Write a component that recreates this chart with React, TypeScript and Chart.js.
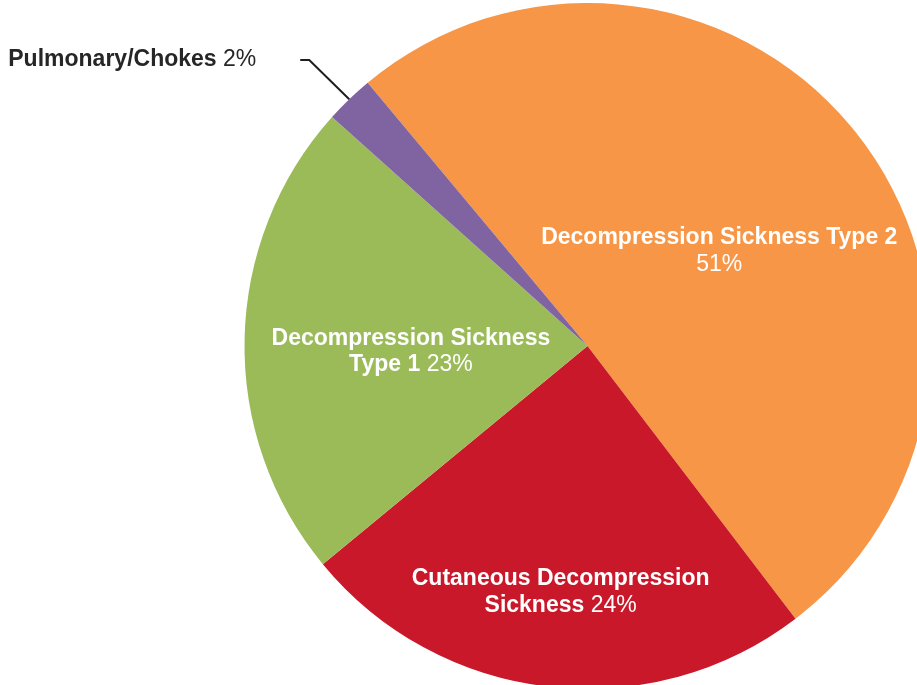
import React, { useEffect, useRef } from "react";
import { Chart, registerables } from "chart.js";

Chart.register(...registerables);

// ---- data ----
const categories = [
  "Decompression Sickness Type 2",
  "Cutaneous Decompression Sickness",
  "Decompression Sickness Type 1",
  "Pulmonary/Chokes",
];
const shares = [50.7, 24.4, 22.6, 2.3];
const sliceColors = ["#F79646", "#CA182B", "#9BBB59", "#8064A2"];
// label text broken into lines (percentage appended)
const labelLines = [
  ["Decompression Sickness Type 2"],
  ["Cutaneous Decompression", "Sickness"],
  ["Decompression Sickness", "Type 1"],
  ["Pulmonary/Chokes"],
];
const pctOnOwnLine = [true, false, false, false];
const outsideLabel = [false, false, false, true];

// ---- label placement / style ----
const labelRadius = [0.476, 0.716, 0.515, 1];
const labelAngleAdjust = [2.4, -0.3, -2.5, 0];
const FONT_FAMILY = '"Liberation Sans", Arial, Helvetica, sans-serif';
const FONT_SIZE = 23;
const LINE_H = 26.8;

type Seg = { text: string; bold: boolean };

function drawSegLine(ctx: CanvasRenderingContext2D, segs: Seg[], cx: number, baseline: number, align: "center" | "right") {
  let total = 0;
  const widths = segs.map((s) => {
    ctx.font = `${s.bold ? "bold " : ""}${FONT_SIZE}px ${FONT_FAMILY}`;
    const w = ctx.measureText(s.text).width;
    total += w;
    return w;
  });
  let x = align === "center" ? cx - total / 2 : cx - total;
  segs.forEach((s, k) => {
    ctx.font = `${s.bold ? "bold " : ""}${FONT_SIZE}px ${FONT_FAMILY}`;
    ctx.textAlign = "left";
    ctx.textBaseline = "alphabetic";
    ctx.fillText(s.text, x, baseline);
    x += widths[k];
  });
}

const sliceLabelPlugin = {
  id: "sliceLabels",
  afterDatasetsDraw(chart: any) {
    const ctx: CanvasRenderingContext2D = chart.ctx;
    const meta = chart.getDatasetMeta(0);
    ctx.save();
    meta.data.forEach((arc: any, i: number) => {
      const { x, y, startAngle, endAngle, outerRadius } = arc.getProps(
        ["x", "y", "startAngle", "endAngle", "outerRadius"],
        true
      );
      const mid = (startAngle + endAngle) / 2;
      const pct = Math.round(shares[i]) + "%";
      const lines: Seg[][] = labelLines[i].map((l) => [{ text: l, bold: true }]);
      if (pctOnOwnLine[i]) lines.push([{ text: pct, bold: false }]);
      else lines[lines.length - 1].push({ text: " " + pct, bold: false });

      if (outsideLabel[i]) {
        const ex = x + Math.cos(mid) * outerRadius;
        const ey = y + Math.sin(mid) * outerRadius;
        const elx = ex - 40;
        const ely = ey - 39.3;
        const sx = elx - 9;
        ctx.strokeStyle = "#1E1E1E";
        ctx.lineWidth = 2;
        ctx.beginPath();
        ctx.moveTo(sx, ely);
        ctx.lineTo(elx, ely);
        ctx.lineTo(ex, ey);
        ctx.stroke();
        ctx.fillStyle = "#262626";
        drawSegLine(ctx, lines[0], sx - 44, ely + 6.5, "right");
      } else {
        const a = mid + (labelAngleAdjust[i] * Math.PI) / 180;
        const cx = x + Math.cos(a) * outerRadius * labelRadius[i];
        const cy = y + Math.sin(a) * outerRadius * labelRadius[i];
        ctx.fillStyle = "#FFFFFF";
        const n = lines.length;
        const first = cy + 8 - ((n - 1) * LINE_H) / 2;
        lines.forEach((segs, k) => drawSegLine(ctx, segs, cx, first + k * LINE_H, "center"));
      }
    });
    ctx.restore();
  },
};

export default function App() {
  const ref = useRef<HTMLCanvasElement | null>(null);

  useEffect(() => {
    if (!ref.current) return;
    const chart = new Chart(ref.current, {
      type: "pie",
      data: {
        labels: categories,
        datasets: [
          {
            data: shares,
            backgroundColor: sliceColors,
            borderWidth: 0,
            hoverOffset: 0,
          },
        ],
      },
      options: {
        responsive: false,
        animation: false,
        rotation: -39.86,
        layout: { padding: { left: 244.5, top: 3, right: 4.5, bottom: 3 } },
        plugins: {
          legend: { display: false },
          tooltip: { enabled: false },
        },
        events: [],
      },
      plugins: [sliceLabelPlugin],
    });
    return () => chart.destroy();
  }, []);

  return (
    <div
      style={{
        position: "fixed",
        left: 0,
        top: 0,
        width: "100vw",
        height: "100vh",
        overflow: "hidden",
        background: "#fff",
      }}
    >
      <canvas ref={ref} width={935} height={692} style={{ display: "block", width: 935, height: 692 }} />
    </div>
  );
}
